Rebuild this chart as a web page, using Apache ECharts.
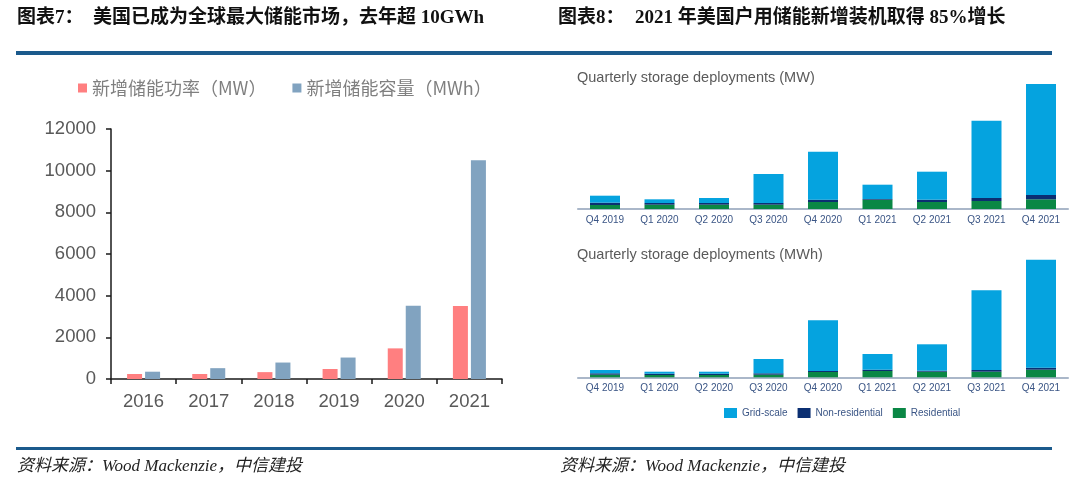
<!DOCTYPE html>
<html>
<head>
<meta charset="utf-8">
<script src="https://cdn.jsdelivr.net/npm/echarts@6/dist/echarts.min.js"></script>
<style>
html,body{margin:0;padding:0;background:#fff;}
#c{width:1080px;height:488px;}
</style>
</head>
<body>
<div id="c"></div>
<script>
// ---- Left chart data (图表7) ----
const years = ['2016', '2017', '2018', '2019', '2020', '2021'];
const powerMW = [240, 240, 330, 480, 1470, 3500];
const energyMWh = [350, 520, 790, 1030, 3520, 10500];
const leftYTicks = [0, 2000, 4000, 6000, 8000, 10000, 12000];
const leftSeriesNames = ['新增储能功率（MW）', '新增储能容量（MWh）'];

// ---- Right charts data (图表8) ----
const quarters = ['Q4 2019', 'Q1 2020', 'Q2 2020', 'Q3 2020', 'Q4 2020', 'Q1 2021', 'Q2 2021', 'Q3 2021', 'Q4 2021'];
const segNames = ['Grid-scale', 'Non-residential', 'Residential'];
const mwResidential = [52, 56, 56, 56, 91, 121, 91, 104, 126];
const mwNonResidential = [30, 22, 22, 22, 30, 9, 30, 39, 56];
const mwGridScale = [91, 48, 65, 377, 624, 186, 364, 1005, 1443];
const mwhResidential = [104, 92, 92, 104, 212, 252, 224, 224, 304];
const mwhNonResidential = [56, 52, 52, 56, 40, 52, 40, 68, 80];
const mwhGridScale = [132, 80, 80, 572, 2028, 628, 1056, 3188, 4320];

const titles = {
  left: ['图表7：', '美国已成为全球最大储能市场，去年超 10GWh'],
  right: ['图表8：', '2021 年美国户用储能新增装机取得 85%增长'],
  mw: 'Quarterly storage deployments (MW)',
  mwh: 'Quarterly storage deployments (MWh)',
  source: '资料来源：Wood Mackenzie，中信建投'
};

const C_RED = '#FF7F80', C_BLUE = '#81A3C0';
const C_GRID = '#05A3DF', C_NONRES = '#0B2F72', C_RES = '#0A8745';
const headFont = '"Liberation Serif","Noto Sans CJK SC",serif';
const lineBlue = '#1B5A8C';

const chart = echarts.init(document.getElementById('c'), null, {renderer: 'canvas'});

function qAxis(gridIndex) {
  return {
    type: 'category', gridIndex, data: quarters,
    axisLine: {lineStyle: {color: '#8FA0B8', width: 1.5}},
    axisTick: {show: false},
    axisLabel: {color: '#3A5585', fontSize: 10, fontFamily: 'Liberation Sans, Arial', margin: 6}
  };
}
function qYAxis(gridIndex, max) {
  return {type: 'value', gridIndex, min: 0, max, show: false, splitLine: {show: false}};
}
function seg(name, data, xi, color) {
  return {name, type: 'bar', stack: 's' + xi, xAxisIndex: xi, yAxisIndex: xi, data,
    barWidth: 30, itemStyle: {color}, silent: true};
}

const option = {
  animation: false,
  textStyle: {fontFamily: 'Liberation Sans, Arial, sans-serif'},
  title: [
    {text: titles.mw, left: 572, top: 65, textStyle: {fontSize: 14.5, fontWeight: 'normal', color: '#5A5A5A', fontFamily: 'Liberation Sans, Arial'}},
    {text: titles.mwh, left: 572, top: 242, textStyle: {fontSize: 14.5, fontWeight: 'normal', color: '#5A5A5A', fontFamily: 'Liberation Sans, Arial'}}
  ],
  legend: [
    {
      data: leftSeriesNames, left: 73, top: 74, itemWidth: 9, itemHeight: 9, itemGap: 26,
      icon: 'rect', itemStyle: {borderWidth: 0},
      textStyle: {fontSize: 18, color: '#7F7F7F', fontFamily: 'Noto Sans CJK SC'}
    },
    {
      data: segNames, left: 719, top: 403,
      itemWidth: 13, itemHeight: 10, itemGap: 10, icon: 'rect',
      textStyle: {fontSize: 10, color: '#3A5585', fontFamily: 'Liberation Sans, Arial'}
    }
  ],
  grid: [
    {left: 111, top: 129, width: 391, height: 250},
    {left: 577.75, top: 80, width: 490.5, height: 129},
    {left: 577.75, top: 257, width: 490.5, height: 120.3}
  ],
  xAxis: [
    {
      type: 'category', gridIndex: 0, data: years,
      axisLine: {lineStyle: {color: '#1A1A1A', width: 1.5}},
      axisTick: {show: true, length: 5, lineStyle: {color: '#1A1A1A', width: 1.5}},
      axisLabel: {color: '#595959', fontSize: 18.5, margin: 13, fontFamily: 'Liberation Sans, Arial'}
    },
    qAxis(1), qAxis(2)
  ],
  yAxis: [
    {
      type: 'value', gridIndex: 0, min: leftYTicks[0], max: leftYTicks[leftYTicks.length - 1], interval: leftYTicks[1] - leftYTicks[0],
      axisLine: {show: true, lineStyle: {color: '#1A1A1A', width: 1.5}},
      axisTick: {show: true, length: 5, lineStyle: {color: '#1A1A1A', width: 1.5}},
      splitLine: {show: false},
      axisLabel: {color: '#595959', fontSize: 18.5, margin: 15, fontFamily: 'Liberation Sans, Arial',
        formatter: v => String(v)}
    },
    qYAxis(1, 1677), qYAxis(2, 4812)
  ],
  series: [
    {name: leftSeriesNames[0], type: 'bar', xAxisIndex: 0, yAxisIndex: 0, data: powerMW, barWidth: 15, barGap: '20%', itemStyle: {color: C_RED}},
    {name: leftSeriesNames[1], type: 'bar', xAxisIndex: 0, yAxisIndex: 0, data: energyMWh, barWidth: 15, barGap: '20%', itemStyle: {color: C_BLUE}},
    seg('Residential', mwResidential, 1, C_RES),
    seg('Non-residential', mwNonResidential, 1, C_NONRES),
    seg('Grid-scale', mwGridScale, 1, C_GRID),
    seg('Residential', mwhResidential, 2, C_RES),
    seg('Non-residential', mwhNonResidential, 2, C_NONRES),
    seg('Grid-scale', mwhGridScale, 2, C_GRID)
  ],
  graphic: [
    {type: 'text', left: 17, top: 9, style: {text: titles.left[0], font: 'bold 19px ' + headFont, fill: '#111'}},
    {type: 'text', left: 93, top: 9, style: {text: titles.left[1], font: 'bold 19px ' + headFont, fill: '#111'}},
    {type: 'text', left: 558, top: 9, style: {text: titles.right[0], font: 'bold 19px ' + headFont, fill: '#111'}},
    {type: 'text', left: 635, top: 9, style: {text: titles.right[1], font: 'bold 19px ' + headFont, fill: '#111'}},
    {type: 'rect', shape: {x: 16, y: 51, width: 1036, height: 4}, style: {fill: lineBlue}},
    {type: 'rect', shape: {x: 16, y: 447, width: 1036, height: 3}, style: {fill: lineBlue}},
    {type: 'text', left: 17, top: 458, style: {text: titles.source, font: 'italic 17px ' + headFont, fill: '#222'}},
    {type: 'text', left: 560, top: 458, style: {text: titles.source, font: 'italic 17px ' + headFont, fill: '#222'}}
  ]
};
chart.setOption(option);
</script>
</body>
</html>
